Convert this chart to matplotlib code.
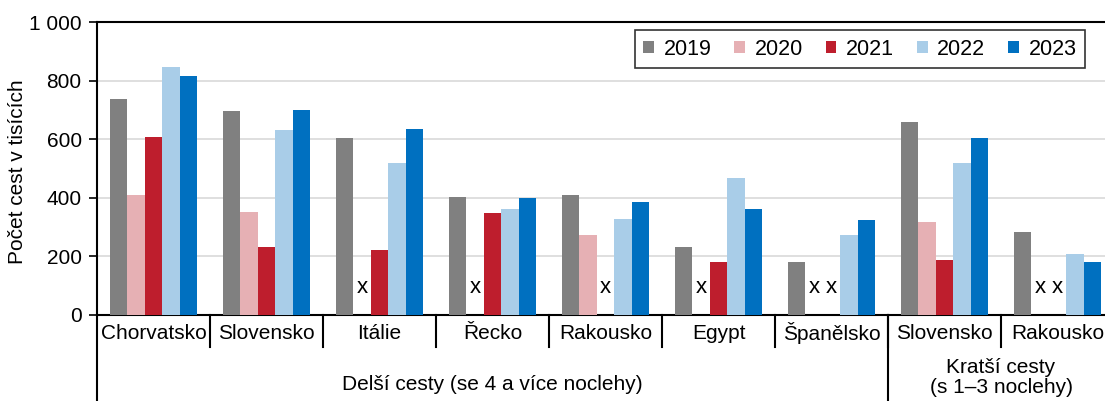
import numpy as np
import matplotlib
matplotlib.use('Agg')
import matplotlib.pyplot as plt
from matplotlib.patches import Patch

plt.rcParams['font.family'] = ['Liberation Sans', 'DejaVu Sans']

categories = ['Chorvatsko', 'Slovensko', 'Itálie', 'Řecko', 'Rakousko', 'Egypt', 'Španělsko', 'Slovensko', 'Rakousko']
years = ['2019', '2020', '2021', '2022', '2023']
v2019 = [738, 696, 604, 404, 409, 232, 182, 659, 282]
v2020 = [410, 352, np.nan, np.nan, 274, np.nan, np.nan, 316, np.nan]
v2021 = [607, 231, 222, 349, np.nan, 182, np.nan, 188, np.nan]
v2022 = [845, 631, 518, 362, 327, 469, 273, 518, 207]
v2023 = [815, 698, 636, 398, 384, 361, 325, 604, 181]
groups = ['Delší cesty (se 4 a více noclehy)', 'Kratší cesty\n(s 1–3 noclehy)']
group_sizes = [7, 2]
colors = ['#808080', '#E6B0B4', '#BE1E2D', '#A9CDE8', '#0070C0']

series = [v2019, v2020, v2021, v2022, v2023]
x = np.arange(len(categories))
w = 0.154
fs = 15

fig = plt.figure(figsize=(11.05, 4.01), dpi=100)
ax = fig.add_axes([97/1105, 86/401, 1017/1105, 293/401])

for j, (vals, c) in enumerate(zip(series, colors)):
    vals = np.array(vals, dtype=float)
    pos = x + (j-2)*w
    ax.bar(pos, np.nan_to_num(vals), w, color=c, label=years[j], zorder=3)
    for p, v in zip(pos, vals):
        if np.isnan(v):
            ax.text(p, 95, 'x', ha='center', va='center', fontsize=fs+1, zorder=4)

ax.set_xlim(-0.5, len(categories)-0.5)
ax.set_ylim(0, 1000)
ax.set_yticks([0, 200, 400, 600, 800, 1000])
ax.set_yticklabels(['0', '200', '400', '600', '800', '1 000'], fontsize=fs)
ax.yaxis.grid(True, color='#D9D9D9', linewidth=1.2, zorder=0)
ax.set_axisbelow(True)
ax.tick_params(axis='y', direction='out', length=6, width=1.2, pad=5)
ax.set_xticks([])
for s in ['left', 'bottom', 'top']:
    ax.spines[s].set_linewidth(1.5)
ax.spines['right'].set_visible(False)
fig.text(18/1105, 1-172/401, 'Počet cest v tisících', rotation=90, ha='center', va='center', fontsize=fs)

trans = ax.get_xaxis_transform()
for i, cat in enumerate(categories):
    ax.text(i, -0.063, cat, ha='center', va='center', fontsize=fs, transform=trans)
# separators
for b in range(1, len(categories)):
    ax.plot([b-0.5, b-0.5], [0, -0.11], color='black', lw=1.5, transform=trans, clip_on=False)
start = 0
edges = [-0.5]
for gname, gs in zip(groups, group_sizes):
    mid = start + gs/2 - 0.5
    if '\n' in gname:
        ax.text(mid, -0.213, gname, ha='center', va='center', fontsize=fs, transform=trans, linespacing=1.1)
    else:
        ax.text(mid, -0.238, gname, ha='center', va='center', fontsize=fs, transform=trans)
    edges.append(start - 0.5)
    start += gs
for e in set(edges):
    ax.plot([e, e], [0, -0.3], color='black', lw=1.5, transform=trans, clip_on=False)

handles = [Patch(facecolor=c, edgecolor='none') for c in colors]
leg = ax.legend(handles, years, ncol=5, loc='upper right', bbox_to_anchor=(1085/1105, 1-30/401),
                bbox_transform=fig.transFigure, fontsize=fs+0.5, frameon=True, fancybox=False,
                edgecolor='black', handlelength=0.5, handleheight=0.5, handletextpad=0.45,
                columnspacing=1.05, borderpad=0.4, borderaxespad=0)
leg.get_frame().set_linewidth(1.2)

fig.savefig('out.png', dpi=100)
